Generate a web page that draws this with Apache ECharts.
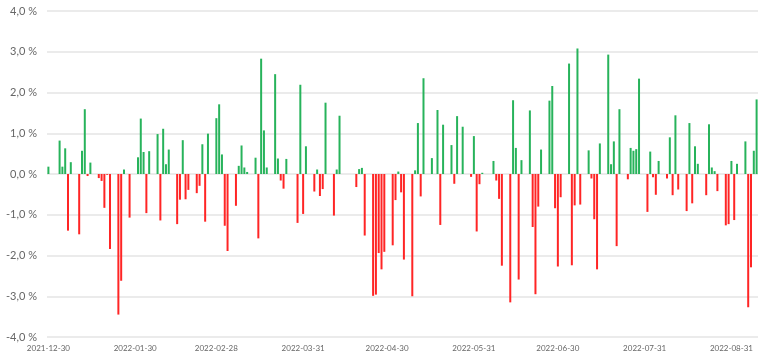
<!DOCTYPE html>
<html>
<head>
<meta charset="utf-8">
<script src="https://cdn.jsdelivr.net/npm/echarts@6/dist/echarts.min.js"></script>
<style>
html,body{margin:0;padding:0;background:#fff;}
#chart{width:767px;height:358px;}
</style>
</head>
<body>
<div id="chart"></div>
<script>
// Trading days and daily returns (%)
const tradeDates = [
'2021-12-30',
'2022-01-03','2022-01-04','2022-01-05','2022-01-06','2022-01-07',
'2022-01-10','2022-01-11','2022-01-12','2022-01-13','2022-01-14',
'2022-01-17','2022-01-18','2022-01-19','2022-01-20','2022-01-21',
'2022-01-24','2022-01-25','2022-01-26','2022-01-27','2022-01-28',
'2022-01-31','2022-02-01','2022-02-02','2022-02-03','2022-02-04',
'2022-02-07','2022-02-08','2022-02-09','2022-02-10','2022-02-11',
'2022-02-14','2022-02-15','2022-02-16','2022-02-17','2022-02-18',
'2022-02-21','2022-02-22','2022-02-23','2022-02-24','2022-02-25',
'2022-02-28','2022-03-01','2022-03-02','2022-03-03','2022-03-04',
'2022-03-07','2022-03-08','2022-03-09','2022-03-10','2022-03-11',
'2022-03-14','2022-03-15','2022-03-16','2022-03-17','2022-03-18',
'2022-03-21','2022-03-22','2022-03-23','2022-03-24','2022-03-25',
'2022-03-28','2022-03-29','2022-03-30','2022-03-31','2022-04-01',
'2022-04-04','2022-04-05','2022-04-06','2022-04-07','2022-04-08',
'2022-04-11','2022-04-12','2022-04-13',
'2022-04-19','2022-04-20','2022-04-21','2022-04-22',
'2022-04-25','2022-04-26','2022-04-27','2022-04-28','2022-04-29',
'2022-05-02','2022-05-03','2022-05-04','2022-05-05','2022-05-06',
'2022-05-09','2022-05-10','2022-05-11','2022-05-12','2022-05-13',
'2022-05-16','2022-05-18','2022-05-19','2022-05-20',
'2022-05-23','2022-05-24','2022-05-25','2022-05-27',
'2022-05-30','2022-05-31','2022-06-01','2022-06-02','2022-06-03',
'2022-06-07','2022-06-08','2022-06-09','2022-06-10',
'2022-06-13','2022-06-14','2022-06-15','2022-06-16','2022-06-17',
'2022-06-20','2022-06-21','2022-06-22','2022-06-23','2022-06-24',
'2022-06-27','2022-06-28','2022-06-29','2022-06-30','2022-07-01',
'2022-07-04','2022-07-05','2022-07-06','2022-07-07','2022-07-08',
'2022-07-11','2022-07-12','2022-07-13','2022-07-14','2022-07-15',
'2022-07-18','2022-07-19','2022-07-20','2022-07-21','2022-07-22',
'2022-07-25','2022-07-26','2022-07-27','2022-07-28','2022-07-29',
'2022-08-01','2022-08-02','2022-08-03','2022-08-04','2022-08-05',
'2022-08-08','2022-08-09','2022-08-10','2022-08-11','2022-08-12',
'2022-08-15','2022-08-16','2022-08-17','2022-08-18','2022-08-19',
'2022-08-22','2022-08-23','2022-08-24','2022-08-25','2022-08-26',
'2022-08-29','2022-08-30','2022-08-31','2022-09-01','2022-09-02',
'2022-09-05','2022-09-06','2022-09-07','2022-09-08','2022-09-09'
];
const returns = [
0.18,
0.82,0.18,0.63,-1.39,0.29,
-1.48,0.57,1.59,-0.05,0.28,
-0.10,-0.17,-0.83,-0.02,-1.84,
-3.45,-2.62,0.11,0.00,-1.07,
0.41,1.36,0.54,-0.96,0.56,
0.98,-1.14,1.11,0.24,0.60,
-1.23,-0.63,0.83,-0.62,-0.39,
-0.47,-0.29,0.73,-1.17,0.99,
1.37,1.71,0.48,-1.27,-1.89,
-0.78,0.20,0.70,0.16,0.05,
0.40,-1.58,2.83,1.07,0.16,
2.45,0.38,-0.16,-0.36,0.37,
0.00,-1.20,2.19,-0.98,0.68,
-0.43,0.11,-0.54,-0.37,1.75,
-1.02,0.11,1.43,
-0.32,0.12,0.15,-1.51,
-2.99,-2.96,-1.94,-2.34,-1.91,
-1.75,-0.64,0.06,-0.45,-2.10,
-3.00,0.09,1.25,-0.55,2.35,
0.39,1.57,-1.25,1.21,
0.71,-0.24,1.42,1.16,
-0.07,0.93,-1.41,-0.25,0.03,
0.32,-0.16,-0.61,-2.25,
-3.15,1.81,0.64,-2.59,0.34,
1.56,-1.30,-2.95,-0.80,0.60,
1.80,2.16,-0.84,-2.27,-0.57,
2.71,-2.24,-0.77,3.08,-0.75,
0.58,-0.11,-1.11,-2.34,0.75,
2.93,0.24,0.80,-1.77,1.59,
-0.13,0.64,0.57,0.61,2.34,
-0.93,0.55,-0.08,-0.51,0.32,
-0.11,0.90,-0.52,1.44,-0.38,
-0.91,1.25,-0.72,0.68,0.25,
-0.52,1.22,0.16,0.07,-0.42,
-1.26,-1.23,0.32,-1.13,0.25,
0.80,-3.27,-2.29,0.57,1.83
];
const labelDates = ['2021-12-30','2022-01-30','2022-02-28','2022-03-31','2022-04-30','2022-05-31','2022-06-30','2022-07-31','2022-08-31'];
const yTicks = [-4, -3, -2, -1, 0, 1, 2, 3, 4];

// Build calendar-day categories
function fmt(d){
  const m = String(d.getUTCMonth()+1).padStart(2,'0');
  const day = String(d.getUTCDate()).padStart(2,'0');
  return d.getUTCFullYear()+'-'+m+'-'+day;
}
const categories = [];
{
  const start = new Date(tradeDates[0]+'T00:00:00Z');
  const end = new Date(tradeDates[tradeDates.length-1]+'T00:00:00Z');
  for (let t = start.getTime(); t <= end.getTime(); t += 86400000) categories.push(fmt(new Date(t)));
}
const valueMap = new Map(tradeDates.map((d,i)=>[d, returns[i]]));
const seriesData = categories.map(c => valueMap.has(c) ? valueMap.get(c) : null);

const chart = echarts.init(document.getElementById('chart'), null, {renderer:'canvas'});
chart.setOption({
  animation: false,
  backgroundColor: '#ffffff',
  grid: {left: 47, right: 9, top: 11, bottom: 21, containLabel: false},
  xAxis: {
    type: 'category',
    data: categories,
    boundaryGap: true,
    axisLine: {show: false},
    axisTick: {show: false},
    splitLine: {show: false},
    axisLabel: {
      interval: (idx, val) => labelDates.includes(val),
      color: '#666666',
      fontFamily: 'Lato',
      fontSize: 8,
      margin: 7
    }
  },
  yAxis: {
    type: 'value',
    min: yTicks[0],
    max: yTicks[yTicks.length-1],
    interval: 1,
    axisLine: {show: false},
    axisTick: {show: false},
    splitLine: {lineStyle: {color: '#ebebeb', width: 2}},
    axisLabel: {
      color: '#666666',
      fontFamily: 'Lato',
      fontSize: 11,
      margin: 10,
      formatter: v => v.toFixed(1).replace('.', ',') + ' %'
    }
  },
  series: [{
    type: 'bar',
    data: seriesData,
    barWidth: 2,
    itemStyle: {
      color: p => (p.value >= 0 ? '#27b35b' : '#ff2525')
    }
  }]
});
</script>
</body>
</html>
